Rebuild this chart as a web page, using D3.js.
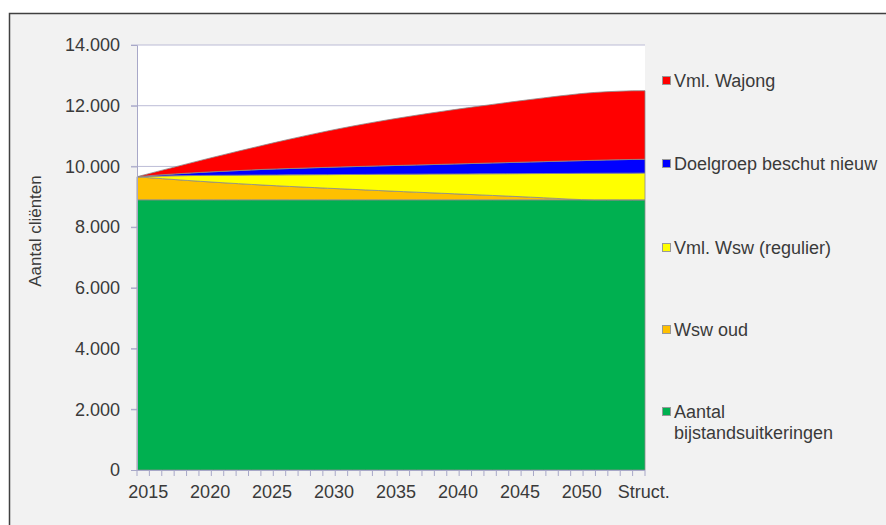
<!DOCTYPE html>
<meta charset="utf-8">
<style>
body { margin: 0; background: #fff; }
svg { display: block; font-family: "Liberation Sans", Arial, sans-serif; }
.tick text { fill: #3a3a3a; }
</style>
<body>
<script src="https://d3js.org/d3.v7.min.js"></script>
<script>
// categories: years 2015-2054 plus structural situation
var years = d3.range(2015, 2055).map(String).concat(["Struct."]);
var xLabels = ["2015", "2020", "2025", "2030", "2035", "2040", "2045", "2050", "Struct."];
var yTicks = [0, 2000, 4000, 6000, 8000, 10000, 12000, 14000];

// series values
var bijstand = [8900,8900,8900,8900,8900,8900,8900,8900,8900,8900,8900,8900,8900,8900,8900,8900,8900,8900,8900,8900,8900,
  8900,8900,8900,8900,8900,8900,8900,8900,8900,8900,8900,8900,8900,8900,8900,8900,8900,8900,8900,8900];
var wswOud = [760,728,697,667,638,610,583,557,532,508,485,463,442,422,402,383,364,345,326,307,288,
  270,252,234,216,198,180,162,144,126,107,88,68,47,25,8,0,0,0,0,0];
var wswRegulier = [0,47,88,125,160,193,223,252,280,307,333,357,381,403,426,447,469,490,511,533,554,
  574,594,614,634,654,674,694,714,734,755,776,798,821,845,864,874,876,877,878,880];
var beschutNieuw = [0,22,42,62,81,100,118,135,152,169,185,197,208,219,230,240,250,259,268,277,285,
  293,302,311,320,329,338,347,356,365,374,383,392,401,410,419,428,437,445,452,456];
var wajong = [0,73,151,231,313,395,478,561,642,722,802,885,966,1046,1122,1197,1268,1337,1403,1465,1526,
  1584,1639,1692,1743,1792,1839,1885,1930,1974,2017,2059,2100,2139,2176,2210,2234,2248,2257,2261,2258];

var seriesNames = ["Aantal bijstandsuitkeringen", "Wsw oud", "Vml. Wsw (regulier)", "Doelgroep beschut nieuw", "Vml. Wajong"];
var seriesKeys = ["bijstand", "wswOud", "wswRegulier", "beschutNieuw", "wajong"];
var colors = ["#00b050", "#ffc000", "#ffff00", "#0000ff", "#ff0000"];

var data = years.map(function(y, i) {
  return { year: y, bijstand: bijstand[i], wswOud: wswOud[i], wswRegulier: wswRegulier[i],
           beschutNieuw: beschutNieuw[i], wajong: wajong[i] };
});

var W = 886, H = 525;
var plot = {left: 137, right: 645, top: 45, bottom: 470};

var svg = d3.select("body").append("svg")
    .attr("width", W)
    .attr("height", H);

// outer frame
svg.append("rect")
    .attr("x", 9.5).attr("y", 13.5)
    .attr("width", W + 20).attr("height", H + 20)
    .attr("fill", "#f2f2f2")
    .attr("stroke", "#404040")
    .attr("stroke-width", 1.5);

// plot area
svg.append("rect")
    .attr("x", plot.left).attr("y", plot.top)
    .attr("width", plot.right - plot.left).attr("height", plot.bottom - plot.top)
    .attr("fill", "#fff");

var x = d3.scalePoint().domain(years).range([plot.left, plot.right]);
var xb = d3.scaleBand().domain(years).range([plot.left, plot.right]);
var y = d3.scaleLinear().domain([0, 14000]).range([plot.bottom, plot.top]);

// gridlines
svg.append("g")
  .selectAll("line")
  .data(yTicks.slice(1))
  .enter().append("line")
    .attr("x1", plot.left - 6).attr("x2", plot.right)
    .attr("y1", function(d) { return y(d); })
    .attr("y2", function(d) { return y(d); })
    .attr("stroke", "#bcbcd6")
    .attr("stroke-width", 1);

// stacked areas
var stack = d3.stack().keys(seriesKeys);
var layers = stack(data);
var area = d3.area()
    .x(function(d) { return x(d.data.year); })
    .y0(function(d) { return y(d[0]); })
    .y1(function(d) { return y(d[1]); });

svg.append("g")
  .selectAll("path")
  .data(layers)
  .enter().append("path")
    .attr("d", area)
    .attr("fill", function(d, i) { return colors[i]; })
    .attr("stroke", "#8a8a8a")
    .attr("stroke-width", 0.8);

// y axis
var yAxis = svg.append("g")
    .attr("transform", "translate(" + plot.left + ",0)")
    .call(d3.axisLeft(y).tickValues(yTicks).tickSize(6).tickPadding(11)
      .tickFormat(function(d) { return d3.format(",")(d).replace(",", "."); }));
yAxis.selectAll("text").style("font-size", "18px");
yAxis.selectAll("line, path").attr("stroke", "#a8a8c8");

// x axis: ticks at category edges, labels every 5 categories
var edges = years.map(function(d) { return xb(d); }).concat([plot.right]);
var xg = svg.append("g");
xg.append("line")
    .attr("x1", plot.left).attr("x2", plot.right)
    .attr("y1", plot.bottom + 0.5).attr("y2", plot.bottom + 0.5)
    .attr("stroke", "#a8a8c8");
xg.selectAll(".xt")
  .data(edges)
  .enter().append("line")
    .attr("class", "xt")
    .attr("x1", function(d) { return d; }).attr("x2", function(d) { return d; })
    .attr("y1", plot.bottom).attr("y2", plot.bottom + 6)
    .attr("stroke", "#a8a8c8");
xg.selectAll("text")
  .data(xLabels)
  .enter().append("text")
    .attr("x", function(d, i) { return xb(years[i * 5]) + xb.bandwidth() / 2 + 5; })
    .attr("y", plot.bottom + 28)
    .attr("text-anchor", "middle")
    .attr("fill", "#3a3a3a")
    .style("font-size", "18px")
    .text(function(d) { return d; });

// y axis title
svg.append("text")
    .attr("transform", "translate(41,231) rotate(-90)")
    .attr("text-anchor", "middle")
    .attr("fill", "#3a3a3a")
    .style("font-size", "17px")
    .text("Aantal cliënten");

// legend (top to bottom = top series first)
var legendY = [81, 164, 248, 330, 412];
var legend = svg.append("g")
  .selectAll("g")
  .data(seriesNames.slice().reverse())
  .enter().append("g")
    .attr("transform", function(d, i) { return "translate(662," + legendY[i] + ")"; });
legend.append("rect")
    .attr("x", 0.5).attr("y", -4.5)
    .attr("width", 8).attr("height", 8)
    .attr("fill", function(d, i) { return colors[colors.length - 1 - i]; })
    .attr("stroke", "#999");
legend.append("text")
    .attr("x", 12)
    .attr("y", 6)
    .attr("fill", "#3a3a3a")
    .style("font-size", "18px")
    .each(function(d) {
      var parts = d === "Aantal bijstandsuitkeringen" ? ["Aantal", "bijstandsuitkeringen"] : [d];
      var t = d3.select(this);
      parts.forEach(function(p, j) {
        t.append("tspan").attr("x", 12).attr("dy", j ? 21 : 0).text(p);
      });
    });
</script>
</body>
